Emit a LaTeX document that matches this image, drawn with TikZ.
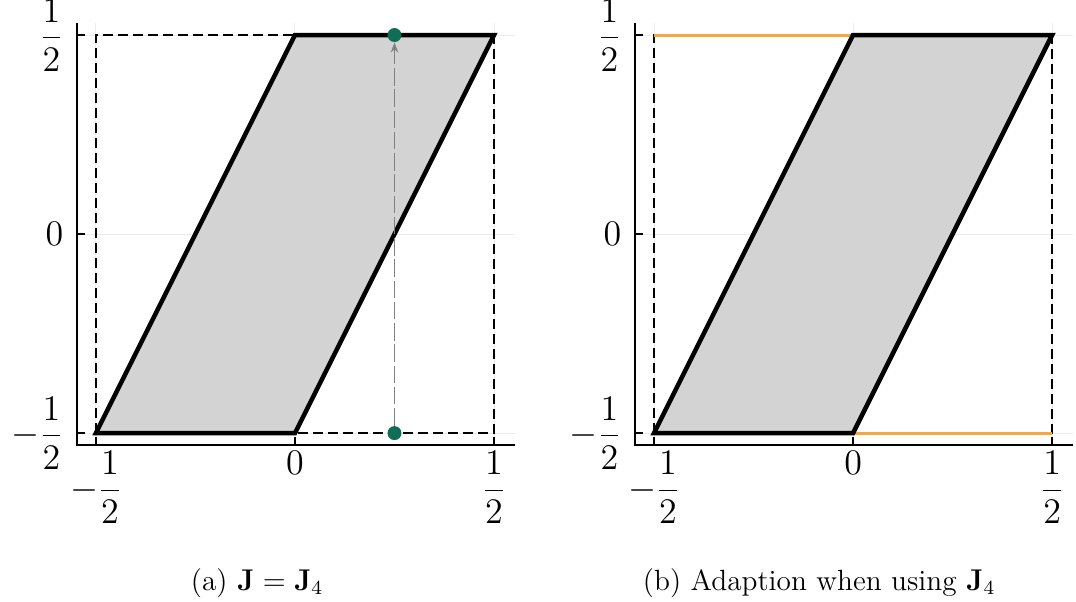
\documentclass[tikz,border=0pt]{standalone}
\usetikzlibrary{arrows.meta}
\usetikzlibrary{positioning}

\definecolor{dotgreen}{RGB}{16,110,86}
\definecolor{edgeorange}{RGB}{247,168,60}
\definecolor{gridgray}{RGB}{236,236,236}
\definecolor{cellgray}{RGB}{211,211,211}

\begin{document}
\begin{tikzpicture}[x=159.2pt, y=159.2pt,
    ticklab/.style={font=\fontsize{14}{16}\selectfont, inner sep=0pt},
    caplab/.style={font=\fontsize{11.7}{14}\selectfont},
    gridline/.style={gridgray, line width=0.4pt},
    axisline/.style={black, line width=0.8pt},
    boxline/.style={dash pattern=on 4pt off 2pt, line width=0.5pt},
    cell/.style={fill=cellgray, draw=black, line width=1.8pt},
    gdot/.style={circle, fill=dotgreen, minimum size=5.6pt, inner sep=0pt},
    gline/.style={-{Stealth[length=4pt,width=3pt]}, gray, line width=0.6pt, dash pattern=on 7pt off 1.5pt},
    orangeline/.style={edgeorange, line width=1.2pt}]
        \useasboundingbox (-0.741,-0.922) rectangle (1.962,0.588);

        % left panel
        \begin{scope}
        \draw [gridline] (-0.548,0.5) -- (0.553,0.5);
        \draw [gridline] (-0.548,0) -- (0.553,0);
        \draw [gridline] (-0.548,-0.5) -- (0.553,-0.5);
        \draw [gridline] (-0.5,-0.53) -- (-0.5,0.53);
        \draw [gridline] (0,-0.53) -- (0,0.53);
        \draw [gridline] (0.5,-0.53) -- (0.5,0.53);
        \draw [boxline] (-0.5,-0.5) rectangle (0.5,0.5);
        \draw [cell] (-0.5,-0.5) -- (0,-0.5) -- (0.5,0.5) -- (0,0.5) -- cycle;
        \draw [axisline] (-0.548,0.53) -- (-0.548,-0.53) -- (0.553,-0.53);
        \draw [axisline] (-0.548,0.5) -- ++(0.02,0);
        \draw [axisline] (-0.548,0) -- ++(0.02,0);
        \draw [axisline] (-0.548,-0.5) -- ++(0.02,0);
        \draw [axisline] (-0.5,-0.53) -- ++(0,0.02);
        \draw [axisline] (0,-0.53) -- ++(0,0.02);
        \draw [axisline] (0.5,-0.53) -- ++(0,0.02);
        \node [ticklab, anchor=east] (ytopa) at (-0.581,0.5) {$\displaystyle\frac{1}{2}$};
        \node [ticklab, anchor=east] (ymida) at (-0.581,0) {$0$};
        \node [ticklab, anchor=east] (ybota) at (-0.581,-0.5) {$\displaystyle-\frac{1}{2}$};
        \node [ticklab, anchor=north] (xlefta) at (-0.5,-0.545) {$\displaystyle-\frac{1}{2}$};
        \node [ticklab, anchor=north] (xmida) at (0,-0.545) {$0$};
        \node [ticklab, anchor=north] (xrighta) at (0.5,-0.545) {$\displaystyle\frac{1}{2}$};
        \node [gdot] (low) at (0.25,-0.5) {};
        \node [gdot] (high) at (0.25,0.5) {};
        \draw [gline] (low) -- (high);
        \node [caplab] (capa) at (-0.095,-0.876) {(a) $\mathbf{J}=\mathbf{J}_4$};
        \end{scope}

        % right panel
        \begin{scope}[shift={(1.402,0)}]
        \draw [gridline] (-0.548,0.5) -- (0.553,0.5);
        \draw [gridline] (-0.548,0) -- (0.553,0);
        \draw [gridline] (-0.548,-0.5) -- (0.553,-0.5);
        \draw [gridline] (-0.5,-0.53) -- (-0.5,0.53);
        \draw [gridline] (0,-0.53) -- (0,0.53);
        \draw [gridline] (0.5,-0.53) -- (0.5,0.53);
        \draw [boxline] (-0.5,-0.5) rectangle (0.5,0.5);
        \draw [orangeline] (-0.5,0.5) -- (0,0.5);
        \draw [orangeline] (0,-0.5) -- (0.5,-0.5);
        \draw [cell] (-0.5,-0.5) -- (0,-0.5) -- (0.5,0.5) -- (0,0.5) -- cycle;
        \draw [axisline] (-0.548,0.53) -- (-0.548,-0.53) -- (0.553,-0.53);
        \draw [axisline] (-0.548,0.5) -- ++(0.02,0);
        \draw [axisline] (-0.548,0) -- ++(0.02,0);
        \draw [axisline] (-0.548,-0.5) -- ++(0.02,0);
        \draw [axisline] (-0.5,-0.53) -- ++(0,0.02);
        \draw [axisline] (0,-0.53) -- ++(0,0.02);
        \draw [axisline] (0.5,-0.53) -- ++(0,0.02);
        \node [ticklab, anchor=east] (ytopb) at (-0.581,0.5) {$\displaystyle\frac{1}{2}$};
        \node [ticklab, anchor=east] (ymidb) at (-0.581,0) {$0$};
        \node [ticklab, anchor=east] (ybotb) at (-0.581,-0.5) {$\displaystyle-\frac{1}{2}$};
        \node [ticklab, anchor=north] (xleftb) at (-0.5,-0.545) {$\displaystyle-\frac{1}{2}$};
        \node [ticklab, anchor=north] (xmidb) at (0,-0.545) {$0$};
        \node [ticklab, anchor=north] (xrightb) at (0.5,-0.545) {$\displaystyle\frac{1}{2}$};
        \node [caplab] (capb) at (-0.085,-0.876) {(b) Adaption when using $\mathbf{J}_4$};
        \end{scope}
      \end{tikzpicture}
\end{document}
